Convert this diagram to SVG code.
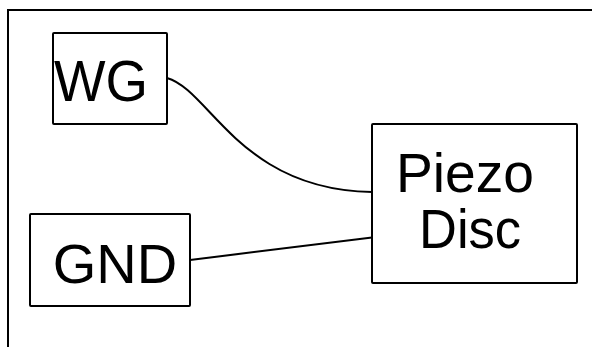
<svg xmlns="http://www.w3.org/2000/svg" width="592" height="347" viewBox="0 0 592 347">
<style>
.box{fill:#fff;stroke:#000;stroke-width:2;stroke-linejoin:round}
.lbl{font-family:"Liberation Sans",Arial,sans-serif;fill:#000}
.wire{fill:none;stroke:#000;stroke-width:2}
</style>
<rect x="0" y="0" width="592" height="347" fill="#fff"/>
<rect id="frame" x="8" y="10" width="600" height="360" fill="none" stroke="#000" stroke-width="2"/>
<g id="connectors">
<path class="wire" d="M167,78 C210,90 240,190 372,192"/>
<path class="wire" d="M190,260 L372,237.5"/>
</g>
<g id="wg">
<rect class="box" x="53" y="33" width="114" height="91" rx="1"/>
<text class="lbl" x="54" y="101" font-size="57" textLength="94" lengthAdjust="spacingAndGlyphs">WG</text>
</g>
<g id="gnd">
<rect class="box" x="30" y="214" width="160" height="92" rx="1"/>
<text class="lbl" x="115" y="283" font-size="56" text-anchor="middle">GND</text>
</g>
<g id="piezo">
<rect class="box" x="372" y="124" width="205" height="159" rx="1"/>
<text class="lbl" x="396" y="192" font-size="56" textLength="138" lengthAdjust="spacingAndGlyphs">Piezo</text>
<text class="lbl" x="419" y="248" font-size="56" textLength="102" lengthAdjust="spacingAndGlyphs">Disc</text>
</g>
</svg>
